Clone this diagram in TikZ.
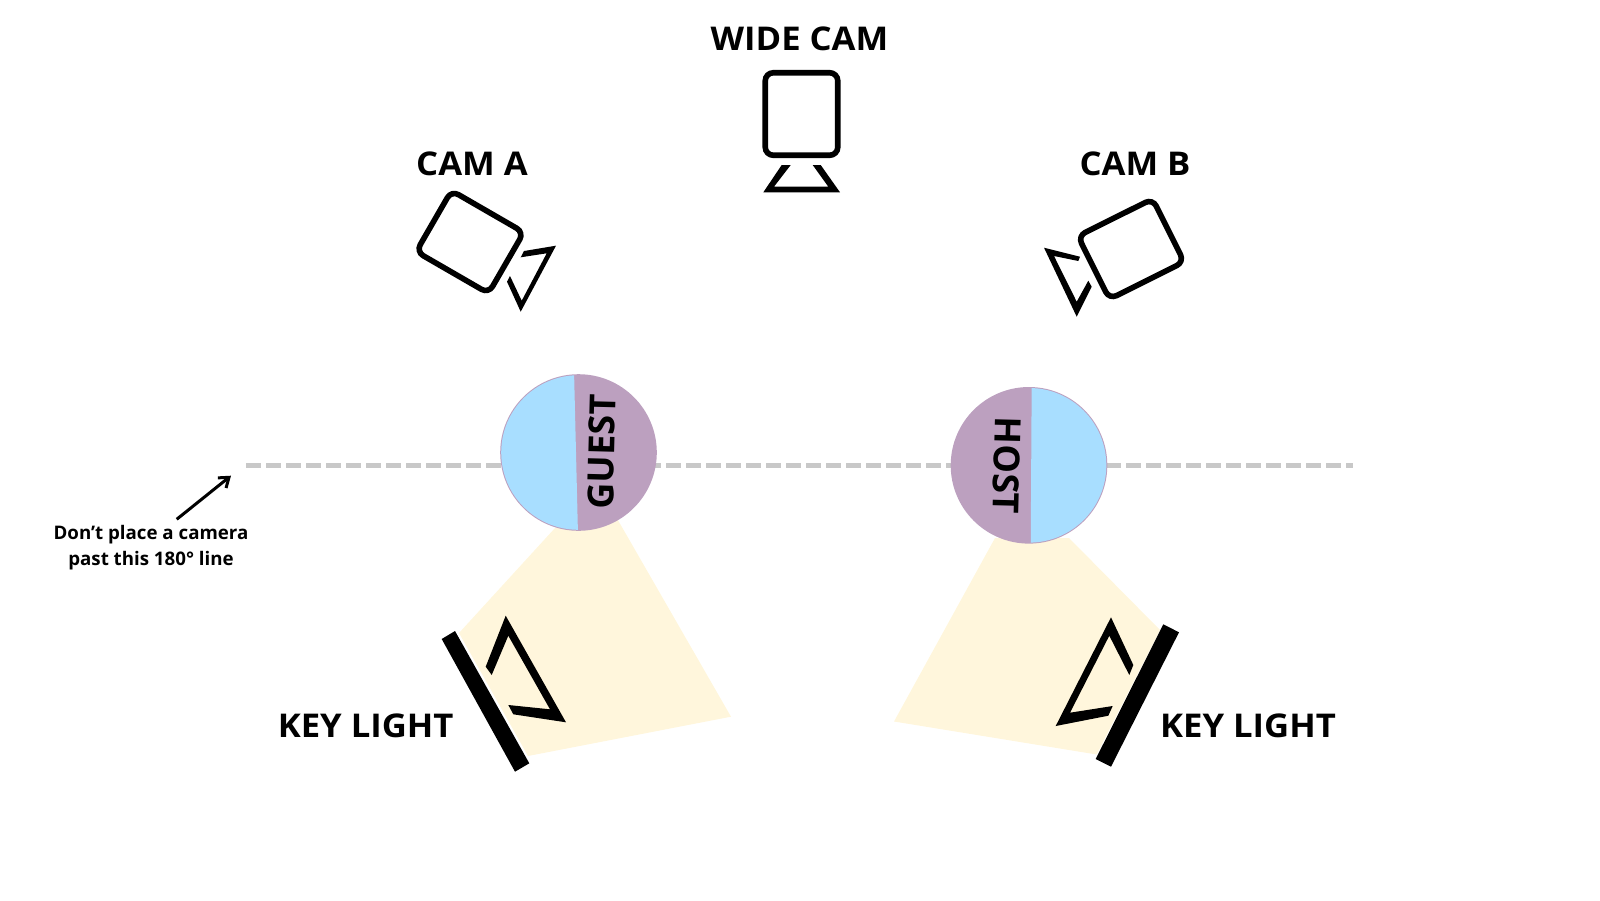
\documentclass[tikz,border=0pt]{standalone}
\usepackage{fontspec}
\setmainfont{Open Sans}
\newfontfamily\labfont[FakeStretch=1.06]{Open Sans}
\usetikzlibrary{arrows.meta}
\definecolor{beam}{HTML}{FFF6DC}
\definecolor{skyb}{HTML}{A8DEFF}
\definecolor{purp}{HTML}{BCA0BF}
\definecolor{dashg}{HTML}{C8C8C8}
\tikzset{
  cambody/.style={draw=black,line width=5.6pt,rounded corners=8pt,inner sep=0pt,fill=white},
  mount/.style={fill=black,draw=none},
  lightbar/.style={fill=black,draw=none},
  beamarea/.style={fill=beam,draw=none},
  lab/.style={font=\labfont\fontsize{32.7}{33}\selectfont\bfseries,inner sep=0pt,text=black},
  seat/.style={font=\fontsize{36}{36}\selectfont\bfseries,inner sep=0pt,text=black},
  note/.style={font=\fontsize{18.7}{25.5}\selectfont\bfseries,inner sep=0pt,align=center,text=black},
  axisline/.style={draw=dashg,line width=5pt,dash pattern=on 15pt off 5pt},
  pointer/.style={draw=black,line width=3pt,-{Straight Barb[length=9pt,width=13pt,line width=3pt]}}
}
\begin{document}
\begin{tikzpicture}[x=1pt,y=-1pt]
\useasboundingbox (0,0) rectangle (1600,900);
% beams
\path[beamarea] (459,633) -- (555,528) -- (615,515) -- (731,716.7) -- (528,756) -- cycle;
\path[beamarea] (1160,630) -- (1069,538) -- (995,538) -- (894,721.5) -- (1096.7,754.5) -- cycle;
% 180 line
\coordinate (lineL) at (246,465.3);
\coordinate (lineR) at (1353,465.3);
\coordinate (tipA) at (231,475.7);
\coordinate (tailA) at (176.7,519.3);
\draw[axisline] (lineL) -- (lineR);
% guest
\path[fill=purp] (578.5,452.5) circle (78.3);
\begin{scope}
\clip (578.5,452.5) circle (77.3);
\path[fill=skyb] (574,370) -- (578,535) -- (490,535) -- (490,370) -- cycle;
\end{scope}
\node[seat,rotate=88.5] (guest) at (601.7,451.7) {GUEST};
% host
\path[fill=purp] (1029,465.3) circle (78.3);
\begin{scope}
\clip (1029,465.3) circle (77.3);
\path[fill=skyb] (1031.7,380) -- (1030.7,550) -- (1115,550) -- (1115,380) -- cycle;
\end{scope}
\node[seat,rotate=-91.5] (host) at (1006.7,465.7) {HOST};
% wide cam
\node[lab] (widelab) at (799.5,39) {WIDE CAM};
\node[cambody,minimum width=72.5pt,minimum height=82.5pt] (widecam) at (801.5,114) {};
\path[mount] (781.7,165) -- (790.7,165) -- (774,186.7) -- (828.3,186.7) -- (812.7,165) -- (820.7,165) -- (840,192.3) -- (763.3,192.3) -- cycle;
% cam A
\node[lab] (camAlab) at (472,164) {CAM A};
\node[cambody,minimum width=83.5pt,minimum height=70.5pt,rotate=-30] (camA) at (470,242) {};
\path[mount] (524,251) -- (556,245.7) -- (520.7,311.7) -- (507,281.7) -- (510,276) -- (521.7,300.7) -- (546.7,253.3) -- (520.7,257.3) -- cycle;
% cam B
\node[lab] (camBlab) at (1135,164) {CAM B};
\node[cambody,minimum width=83.5pt,minimum height=70.5pt,rotate=26.5] (camB) at (1131,249) {};
\path[mount] (1044,247.7) -- (1080,256.7) -- (1078.3,261) -- (1054,256) -- (1076.7,301.7) -- (1088.3,280.7) -- (1091.7,286.7) -- (1076.7,316.7) -- cycle;
% left light
\path[lightbar] (441.7,639) -- (455,631) -- (529.3,763.3) -- (515,771.7) -- cycle;
\path[mount] (505.7,615.7) -- (566,722.3) -- (513.3,714.3) -- (508.3,705) -- (550,709.3) -- (508.3,635.7) -- (491.7,675) -- (485.7,666.7) -- cycle;
\node[lab] (keyL) at (365.7,725.5) {KEY LIGHT};
% right light
\path[lightbar] (1163.3,624.3) -- (1179,632.3) -- (1111,766.7) -- (1095.7,759) -- cycle;
\path[mount] (1111,617.3) -- (1133.3,665) -- (1129.3,675) -- (1109.3,635.7) -- (1070,712.7) -- (1112.7,706) -- (1108.3,715.7) -- (1055.7,726) -- cycle;
\node[lab] (keyR) at (1248,725.5) {KEY LIGHT};
% note
\node[note] (notetext) at (151,547.5) {Don’t place a camera\\past this 180° line};
\draw[pointer] (tailA) -- (tipA);
\end{tikzpicture}
\end{document}
